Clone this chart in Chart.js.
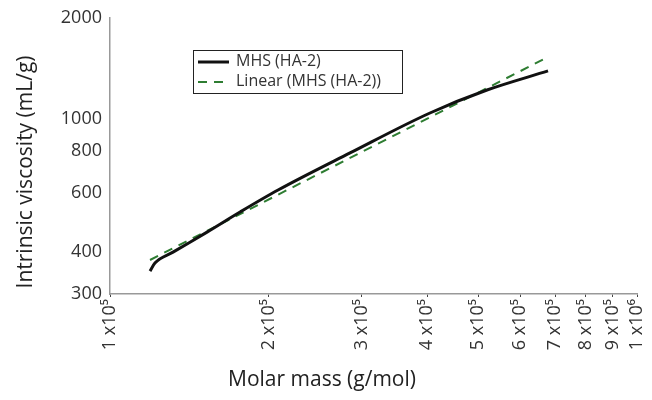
<!DOCTYPE html>
<html>
<head>
<meta charset="utf-8">
<script src="https://cdn.jsdelivr.net/npm/chart.js@4"></script>
<style>
  html, body { margin: 0; padding: 0; background: #fff; }
  #wrap { width: 652px; height: 400px; }
</style>
</head>
<body>
<div id="wrap"><canvas id="myChart" width="652" height="400"></canvas></div>
<script>
// values (log-log axes)
const molarMass = [119100, 121700, 131700, 152800, 176500, 208400, 285400, 404700, 519300, 677900];
const viscosity = [351, 371, 400, 459, 527, 613, 791, 1041, 1219, 1390];

// linear fit (straight line on log-log), end points
const fitMass = [119100, 672000];
const fitViscosity = [379, 1519];

const xTicks = [1e5, 2e5, 3e5, 4e5, 5e5, 6e5, 7e5, 8e5, 9e5, 1e6];
const yTicks = [300, 400, 600, 800, 1000, 2000];

const seriesNames = ['MHS (HA-2)', 'Linear (MHS (HA-2))'];
const xTitle = 'Molar mass (g/mol)';
const yTitle = 'Intrinsic viscosity (mL/g)';

const fontFamily = "'Open Sans', 'Noto Sans', sans-serif";

function toPoints(xs, ys) {
    let pts = [];
    for (let i = 0; i < xs.length; i++) {
        pts.push({x: xs[i], y: ys[i]});
    }
    return pts;
}

function sciLabel(v) {
    const sup = {'5': '\u2075', '6': '\u2076'};
    const exp = Math.floor(Math.log10(v) + 1e-9);
    const mant = Math.round(v / Math.pow(10, exp));
    return mant + ' x10' + sup[String(exp)];
}

// legend box inside the plot + both axis titles (placed off-centre like the original)
const extras = {
    id: 'extras',
    afterDraw(chart) {
        const ctx = chart.ctx;
        const ds = chart.data.datasets;
        ctx.save();
        ctx.fillStyle = '#fff';
        ctx.fillRect(193, 50, 209, 43);
        ctx.strokeStyle = '#222';
        ctx.lineWidth = 1;
        ctx.strokeRect(193.5, 50.5, 209, 43);
        ctx.font = '16px ' + fontFamily;
        ctx.textBaseline = 'middle';
        ctx.textAlign = 'left';
        const rows = [62, 82];
        for (let i = 0; i < ds.length; i++) {
            ctx.beginPath();
            ctx.strokeStyle = ds[i].borderColor;
            ctx.lineWidth = ds[i].borderWidth;
            ctx.setLineDash(ds[i].borderDash || []);
            ctx.moveTo(198, rows[i]);
            ctx.lineTo(229, rows[i]);
            ctx.stroke();
            ctx.setLineDash([]);
            ctx.fillStyle = '#333';
            ctx.fillText(ds[i].label, 236, rows[i] - 1);
        }
        ctx.fillStyle = '#222';
        ctx.textAlign = 'center';
        ctx.font = '21px ' + fontFamily;
        ctx.fillText(xTitle, 322, 380);
        ctx.translate(26, 172);
        ctx.rotate(-Math.PI / 2);
        ctx.font = '21px ' + fontFamily;
        ctx.fillText(yTitle, 0, 0);
        ctx.restore();
    }
};

const ctx = document.getElementById('myChart');

myChart = new Chart(ctx, {
    type: 'line',
    data: {
        datasets: [{
            label: seriesNames[0],
            data: toPoints(molarMass, viscosity),
            borderColor: '#111',
            borderWidth: 3,
            pointRadius: 0,
            cubicInterpolationMode: 'monotone',
            fill: false
        }, {
            label: seriesNames[1],
            data: toPoints(fitMass, fitViscosity),
            borderColor: '#2e7d32',
            borderWidth: 2,
            borderDash: [9, 7],
            pointRadius: 0,
            tension: 0,
            fill: false
        }]
    },
    options: {
        responsive: false,
        animation: false,
        layout: { padding: { left: 0, right: 15, top: 18, bottom: 0 } },
        plugins: {
            legend: { display: false },
            tooltip: { enabled: false }
        },
        scales: {
            x: {
                type: 'logarithmic',
                min: 1e5,
                max: 1e6,
                afterBuildTicks: function(scale) {
                    scale.ticks = xTicks.map(v => ({value: v}));
                },
                afterFit: function(scale) {
                    scale.height = 106;
                    scale.paddingLeft = 0;
                    scale.paddingRight = 0;
                },
                ticks: {
                    autoSkip: false,
                    minRotation: 90,
                    maxRotation: 90,
                    color: '#333',
                    font: { family: fontFamily, size: 18 },
                    padding: 2,
                    callback: function(value) { return sciLabel(value); }
                },
                grid: {
                    display: true,
                    drawOnChartArea: false,
                    drawTicks: true,
                    tickLength: 3,
                    color: '#444'
                },
                border: { display: true, color: '#999', width: 1.5 }
            },
            y: {
                type: 'logarithmic',
                min: 300,
                max: 2000,
                afterBuildTicks: function(scale) {
                    scale.ticks = yTicks.map(v => ({value: v}));
                },
                afterFit: function(scale) {
                    scale.width = 110;
                    scale.paddingTop = 0;
                    scale.paddingBottom = 0;
                },
                ticks: {
                    color: '#333',
                    font: { family: fontFamily, size: 18 },
                    padding: 0,
                    callback: function(value) { return String(value); }
                },
                grid: { display: false },
                border: { display: true, color: '#999', width: 1.5 }
            }
        }
    },
    plugins: [extras]
});
</script>
</body>
</html>
